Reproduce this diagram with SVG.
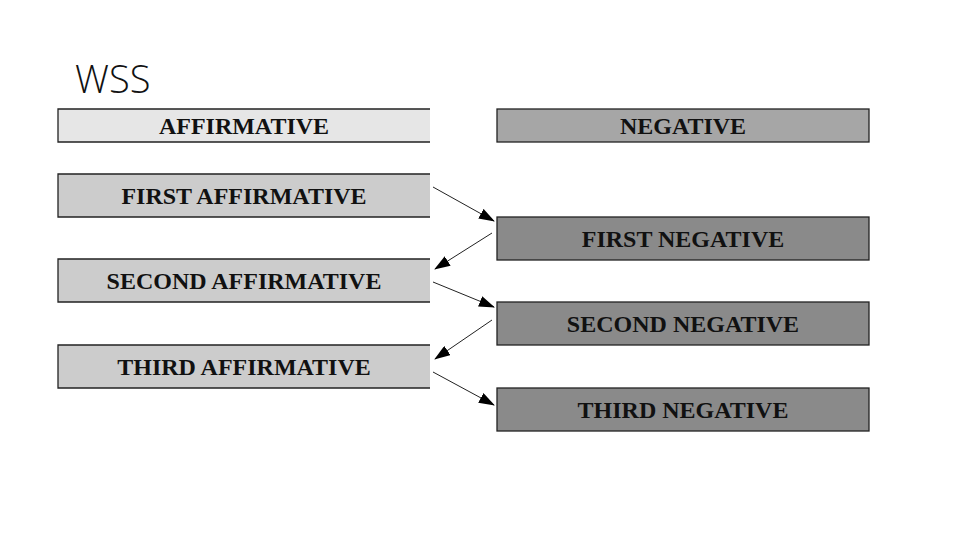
<svg xmlns="http://www.w3.org/2000/svg" width="960" height="540" viewBox="0 0 960 540">
<style>
.lbl{font-family:"Liberation Serif","Times New Roman",serif;font-weight:bold;font-size:24px;fill:#111;text-anchor:middle}
.edge{stroke:#222;stroke-width:1;fill:none}
.bd{stroke:#222;stroke-width:1.3;fill:none}
</style>
<defs>
<marker id="ah" markerWidth="16" markerHeight="11" refX="15" refY="5.5" orient="auto" markerUnits="userSpaceOnUse">
<path d="M0,0 L16,5.5 L0,11 Z" fill="#000"/>
</marker>
</defs>
<rect width="960" height="540" fill="#fff"/>
<text x="75" y="93" font-family="'Open Sans','Liberation Sans',sans-serif" font-weight="300" font-size="38" fill="#111">WSS</text>

<g id="affirmative">
<rect x="58" y="109" width="372" height="33" fill="#e6e6e6"/>
<path class="bd" d="M430,109 H58 V142 H430"/>
<text class="lbl" x="244" y="134">AFFIRMATIVE</text>
</g>
<g id="first-affirmative">
<rect x="58" y="174" width="372" height="43" fill="#cccccc"/>
<path class="bd" d="M430,174 H58 V217 H430"/>
<text class="lbl" x="244" y="204">FIRST AFFIRMATIVE</text>
</g>
<g id="second-affirmative">
<rect x="58" y="259" width="372" height="43" fill="#cccccc"/>
<path class="bd" d="M430,259 H58 V302 H430"/>
<text class="lbl" x="244" y="289">SECOND AFFIRMATIVE</text>
</g>
<g id="third-affirmative">
<rect x="58" y="345" width="372" height="43" fill="#cccccc"/>
<path class="bd" d="M430,345 H58 V388 H430"/>
<text class="lbl" x="244" y="375">THIRD AFFIRMATIVE</text>
</g>

<g id="negative">
<rect x="497" y="109" width="372" height="33" fill="#a6a6a6" stroke="#222" stroke-width="1.3"/>
<text class="lbl" x="683" y="134">NEGATIVE</text>
</g>
<g id="first-negative">
<rect x="497" y="217" width="372" height="43" fill="#8a8a8a" stroke="#222" stroke-width="1.3"/>
<text class="lbl" x="683" y="247">FIRST NEGATIVE</text>
</g>
<g id="second-negative">
<rect x="497" y="302" width="372" height="43" fill="#8a8a8a" stroke="#222" stroke-width="1.3"/>
<text class="lbl" x="683" y="332">SECOND NEGATIVE</text>
</g>
<g id="third-negative">
<rect x="497" y="388" width="372" height="43" fill="#8a8a8a" stroke="#222" stroke-width="1.3"/>
<text class="lbl" x="683" y="418">THIRD NEGATIVE</text>
</g>

<g id="connectors">
<line class="edge" x1="433" y1="187" x2="494" y2="221" marker-end="url(#ah)"/>
<line class="edge" x1="492" y1="233" x2="435" y2="269" marker-end="url(#ah)"/>
<line class="edge" x1="433" y1="282" x2="494" y2="307" marker-end="url(#ah)"/>
<line class="edge" x1="492" y1="320" x2="435" y2="359" marker-end="url(#ah)"/>
<line class="edge" x1="433" y1="372" x2="494" y2="405" marker-end="url(#ah)"/>
</g>
</svg>
